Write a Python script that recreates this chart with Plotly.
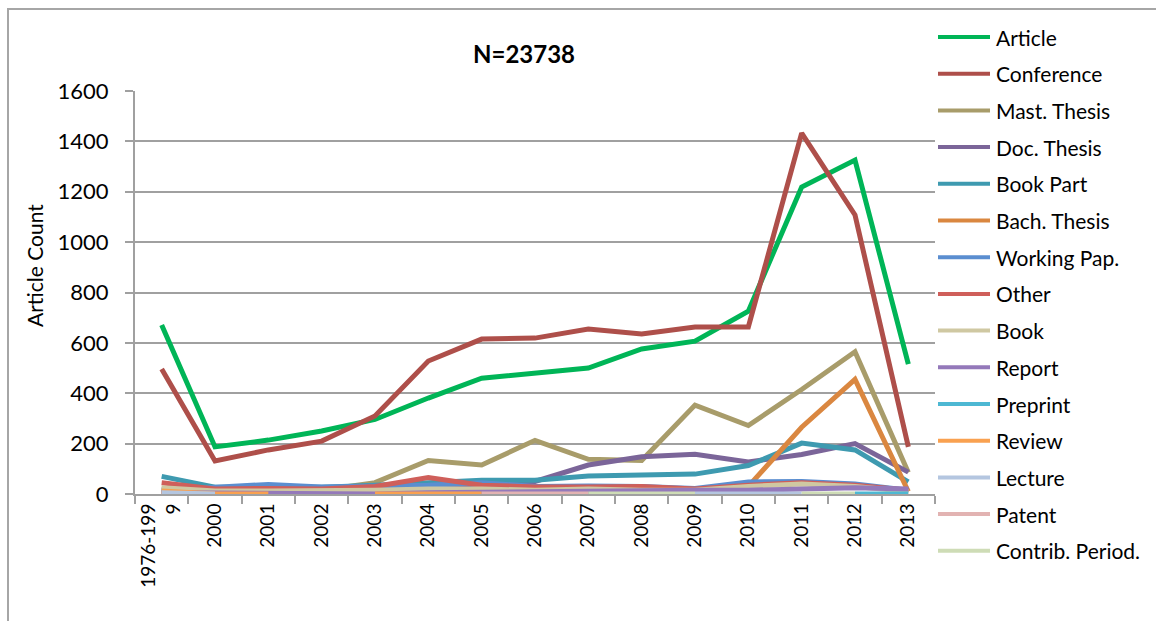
import plotly.graph_objects as go

categories = ["1976-199<br>9", "2000", "2001", "2002", "2003", "2004", "2005", "2006",
              "2007", "2008", "2009", "2010", "2011", "2012", "2013"]

article      = [671, 187, 214, 250, 296, 381, 460, 480, 500, 576, 607, 726, 1219, 1326, 516]
conference   = [496, 131, 175, 210, 310, 528, 615, 619, 655, 635, 663, 663, 1433, 1108, 187]
mast_thesis  = [20, 15, 10, 15, 45, 133, 115, 213, 138, 133, 353, 272, 415, 565, 85]
doc_thesis   = [10, 5, 5, 10, 15, 25, 35, 50, 115, 148, 158, 127, 157, 200, 87]
book_part    = [70, 27, 27, 27, 35, 45, 55, 55, 71, 75, 79, 113, 202, 175, 48]
bach_thesis  = [0, 0, 0, 0, 0, 0, 0, 0, 0, 0, 0, 30, 265, 455, 10]
working_pap  = [15, 25, 38, 28, 30, 35, 45, 30, 32, 30, 22, 48, 50, 40, 15]
other        = [45, 20, 22, 20, 30, 65, 35, 28, 28, 30, 20, 35, 45, 35, 15]
book         = [25, 12, 12, 12, 15, 20, 20, 15, 20, 15, 15, 30, 40, 30, 10]
report       = [5, 3, 0, 0, 0, 5, 8, 8, 10, 12, 15, 15, 20, 25, 20]
preprint     = [None] * 13 + [0, 0]
review       = [12, 0, 0, None, 0, 0, 0] + [None] * 8
lecture      = [5, 0] + [None] * 8 + [0, 0, 0, None, None]
patent       = [None] * 6 + [0, 0, 0] + [None] * 6
contrib      = [None] * 8 + [0, 0, 0, None, 0, 0, None]

series_names = ["Article", "Conference", "Mast. Thesis", "Doc. Thesis", "Book Part",
                "Bach. Thesis", "Working Pap.", "Other", "Book", "Report", "Preprint",
                "Review", "Lecture", "Patent", "Contrib. Period."]
series_values = [article, conference, mast_thesis, doc_thesis, book_part, bach_thesis,
                 working_pap, other, book, report, preprint, review, lecture, patent, contrib]
series_colors = ["#00B557", "#AE4F4A", "#A89C6A", "#7B6599", "#3E9AB0", "#DA8740",
                 "#5B8ED0", "#CF5F5A", "#CFC8A2", "#9479BA", "#4DB8D3", "#F9A150",
                 "#B4C6E0", "#E2B3B2", "#CEDCB6"]

FONT = "Lato"
L, T, PW, PH = 135, 91, 800, 403
W, H = 1156, 621

def px_x(px):
    return (px - L) / PW

def px_y(py):
    return (T + PH - py) / PH

fig = go.Figure()
for name, vals, col in zip(series_names, series_values, series_colors):
    fig.add_trace(go.Scatter(x=categories, y=vals, name=name, mode="lines",
                             line=dict(color=col, width=5), connectgaps=False,
                             showlegend=False))

shapes = []
annotations = []
# outer chart frame
shapes.append(dict(type="rect", xref="paper", yref="paper",
                   x0=px_x(8), x1=px_x(1165), y0=px_y(630), y1=px_y(9),
                   line=dict(color="#A6A6A6", width=2), fillcolor="rgba(0,0,0,0)",
                   layer="below"))
# manual legend
for i, (name, col) in enumerate(zip(series_names, series_colors)):
    yy = px_y(37 + 36.7 * i)
    shapes.append(dict(type="line", xref="paper", yref="paper",
                       x0=px_x(938), x1=px_x(990), y0=yy, y1=yy,
                       line=dict(color=col, width=4)))
    annotations.append(dict(xref="paper", yref="paper", x=px_x(994), y=yy,
                            text=name, showarrow=False, xanchor="left", yanchor="middle",
                            font=dict(family=FONT, size=21, color="#000000")))
# title
annotations.append(dict(xref="paper", yref="paper", x=px_x(524), y=px_y(53),
                        text="<b>N=23738</b>", showarrow=False,
                        xanchor="center", yanchor="middle",
                        font=dict(family=FONT, size=24, color="#000000")))
# y-axis title
annotations.append(dict(xref="paper", yref="paper", x=px_x(34), y=px_y(266),
                        text="Article Count", showarrow=False, textangle=-90,
                        xanchor="center", yanchor="middle",
                        font=dict(family=FONT, size=21, color="#000000")))

fig.update_layout(
    width=W, height=H,
    margin=dict(l=L, r=W - L - PW, t=T, b=H - T - PH, pad=0),
    paper_bgcolor="#FFFFFF", plot_bgcolor="#FFFFFF",
    shapes=shapes, annotations=annotations,
    font=dict(family=FONT, color="#000000"),
)
fig.update_xaxes(type="category", range=[-0.5, len(categories) - 0.5],
                 tickson="boundaries", ticks="outside", ticklen=8,
                 tickwidth=2, tickcolor="#A0A0A0", showline=True, linecolor="#A0A0A0",
                 linewidth=2, showgrid=False, tickangle=-90,
                 tickfont=dict(family=FONT, size=19, color="#000000"), zeroline=False)
fig.update_yaxes(range=[0, 1600], tick0=0, dtick=200, ticks="outside", ticklen=8,
                 tickwidth=2, tickcolor="#A0A0A0", showline=True, linecolor="#A0A0A0",
                 linewidth=2, showgrid=True, gridcolor="#A0A0A0", gridwidth=2,
                 zeroline=False, ticklabelstandoff=12,
                 tickfont=dict(family=FONT, size=22, color="#000000"))

fig.write_html("out.html", config={"displayModeBar": False},
               post_script="document.body.style.margin='0px';document.body.style.overflow='hidden';")
